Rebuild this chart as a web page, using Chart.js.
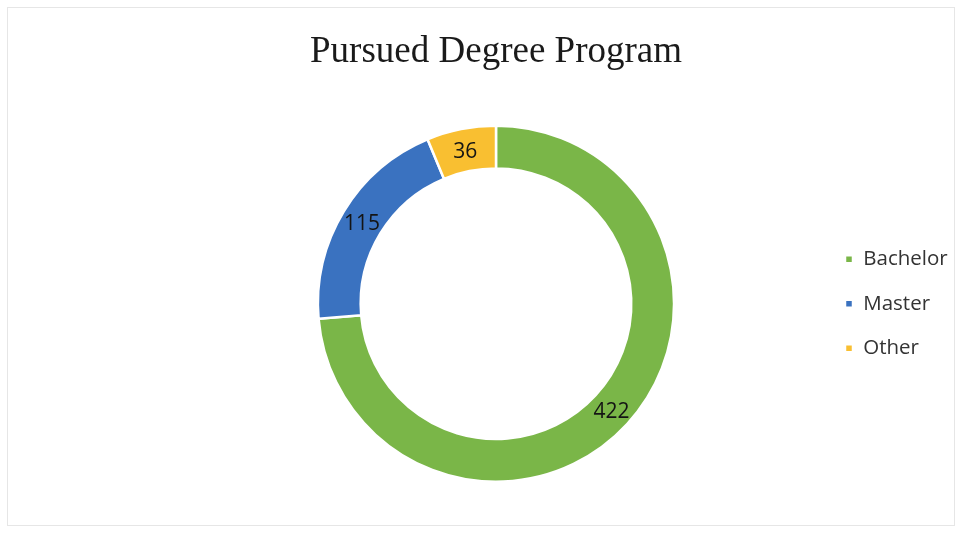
<!DOCTYPE html>
<html>
<head>
<meta charset="utf-8">
<script src="https://cdn.jsdelivr.net/npm/chart.js@4.4.1/dist/chart.umd.min.js"></script>
<style>
  html, body { margin: 0; padding: 0; background: #ffffff; }
  #wrap { position: relative; width: 963px; height: 540px; }
  #frame { position: absolute; left: 7px; top: 7px; width: 948px; height: 519px; border: 1px solid #e6e6e6; box-sizing: border-box; }
  canvas { position: absolute; left: 0; top: 0; }
</style>
</head>
<body>
<div id="wrap">
  <div id="frame"></div>
  <canvas id="c" width="963" height="540"></canvas>
</div>
<script>
const titleText = 'Pursued Degree Program';
const categories = ['Bachelor', 'Master', 'Other'];
const counts = [422, 115, 36];
const sliceColors = ['#7AB648', '#3A72C0', '#F9BF31'];

const valueLabels = {
  id: 'valueLabels',
  afterDatasetsDraw(chart) {
    const ctx = chart.ctx;
    const meta = chart.getDatasetMeta(0);
    ctx.save();
    ctx.font = '21px "Open Sans"';
    ctx.fillStyle = '#141414';
    ctx.textAlign = 'center';
    ctx.textBaseline = 'middle';
    meta.data.forEach((arc, i) => {
      const p = arc.tooltipPosition();
      ctx.fillText(String(chart.data.datasets[0].data[i]), p.x, p.y + 2);
    });
    ctx.restore();
  }
};

const legendWidth = {
  id: 'legendWidth',
  beforeInit(chart) {
    const orig = chart.legend.fit;
    chart.legend.fit = function () {
      orig.call(this);
      this.width = 142;
    };
  }
};

new Chart(document.getElementById('c'), {
  type: 'doughnut',
  data: {
    labels: categories,
    datasets: [{
      data: counts,
      backgroundColor: sliceColors,
      borderColor: '#ffffff',
      borderWidth: 2.5,
      hoverOffset: 0
    }]
  },
  plugins: [valueLabels, legendWidth],
  options: {
    responsive: false,
    animation: false,
    cutout: '76%',
    layout: { padding: { left: 171, right: 0, top: 0, bottom: 57 } },
    plugins: {
      title: {
        display: true,
        fullSize: false,
        text: titleText,
        color: '#1a1a1a',
        font: { family: '"Liberation Serif", "Times New Roman", serif', size: 37, weight: 'normal' },
        padding: { top: 30, bottom: 50 }
      },
      legend: {
        position: 'right',
        align: 'center',
        fullSize: false,
        labels: {
          boxWidth: 8,
          boxHeight: 8,
          padding: 24,
          color: '#333333',
          font: { family: '"Open Sans"', size: 20.5 }
        }
      },
      tooltip: { enabled: false }
    }
  }
});
</script>
</body>
</html>
